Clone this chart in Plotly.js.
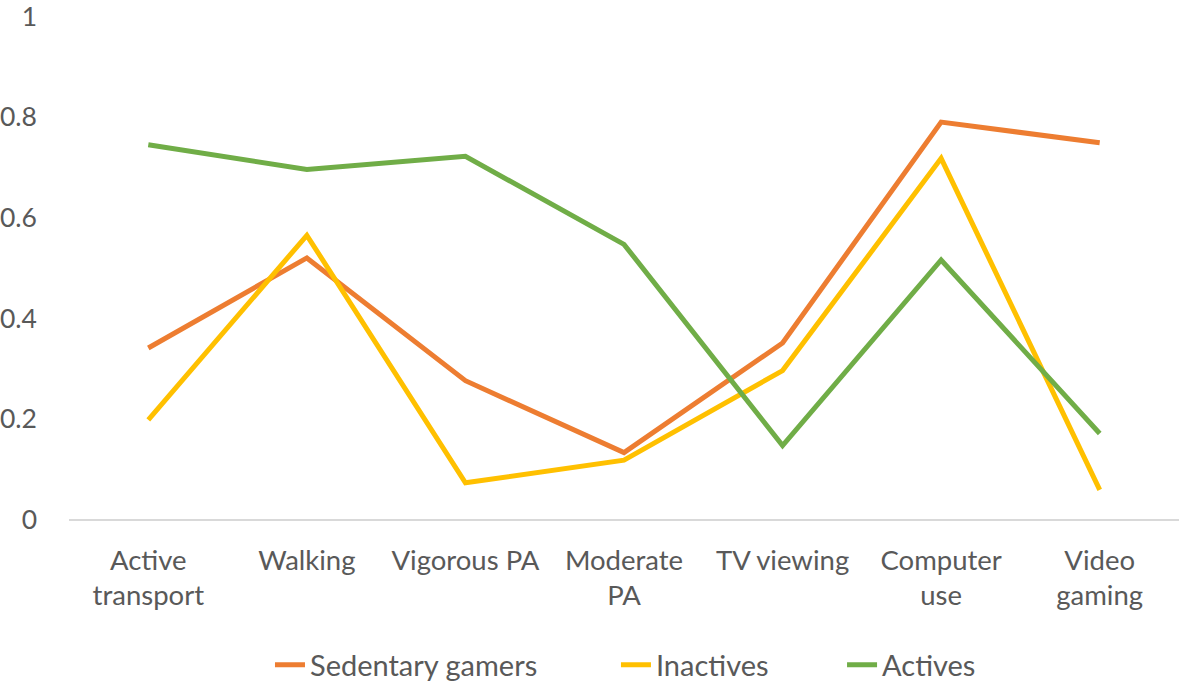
<!DOCTYPE html>
<html>
<head>
<meta charset="utf-8">
<script src="https://cdn.plot.ly/plotly-3.0.1.min.js"></script>
<style>html,body{margin:0;padding:0;background:#fff;}#chart{width:1180px;height:684px;}</style>
</head>
<body>
<div id="chart"></div>
<script>
const categories = ["Active<br>transport", "Walking", "Vigorous PA", "Moderate<br>PA", "TV viewing", "Computer<br>use", "Video<br>gaming"];
const sedentaryGamers = [0.341, 0.520, 0.276, 0.133, 0.351, 0.790, 0.749];
const inactives = [0.198, 0.565, 0.073, 0.118, 0.296, 0.718, 0.059];
const actives = [0.745, 0.696, 0.722, 0.547, 0.147, 0.516, 0.171];
const yTicks = [0, 0.2, 0.4, 0.6, 0.8, 1];
const yTickText = ["0", "0.2", "0.4", "0.6", "0.8", "1"];

const mk = (name, y, color, lg) => ({
  type: "scatter", mode: "lines", name: name, x: categories, y: y,
  line: {color: color, width: 5}, hoverinfo: "x+y", legend: lg
});

const data = [
  mk("Sedentary gamers", sedentaryGamers, "#ED7D31", "legend"),
  mk("Inactives", inactives, "#FFC000", "legend2"),
  mk("Actives", actives, "#70AD47", "legend3")
];

const font = {family: "Lato, 'Open Sans', sans-serif", size: 27.5, color: "#595959"};
const yFont = {family: "Lato, 'Open Sans', sans-serif", size: 26.5, color: "#595959"};
const legendFont = {family: "Lato, 'Open Sans', sans-serif", size: 29, color: "#595959"};
const lg = (x) => ({orientation: "h", xref: "container", yref: "container", x: x, xanchor: "left", y: 0.028, yanchor: "middle", font: legendFont, bgcolor: "rgba(0,0,0,0)"});

const layout = {
  width: 1180, height: 684,
  margin: {l: 69, r: 1, t: 16, b: 164},
  paper_bgcolor: "#fff", plot_bgcolor: "#fff",
  font: font,
  showlegend: true,
  legend: lg(0.2288),
  legend2: lg(0.522),
  legend3: lg(0.7136),
  xaxis: {
    type: "category", range: [-0.5, 6.5], showgrid: false, zeroline: false,
    showline: false, ticks: "", tickfont: font, ticklabelstandoff: 21, automargin: false, fixedrange: true
  },
  yaxis: {
    range: [-0.001, 1.001], tickvals: yTicks, ticktext: yTickText, showgrid: false,
    zeroline: true, zerolinecolor: "#D9D9D9", zerolinewidth: 2,
    showline: false, ticks: "", tickfont: yFont, ticklabelstandoff: 31, ticklabeloverflow: "allow",
    automargin: false, fixedrange: true
  }
};

Plotly.newPlot("chart", data, layout, {displayModeBar: false, staticPlot: true});
</script>
</body>
</html>
